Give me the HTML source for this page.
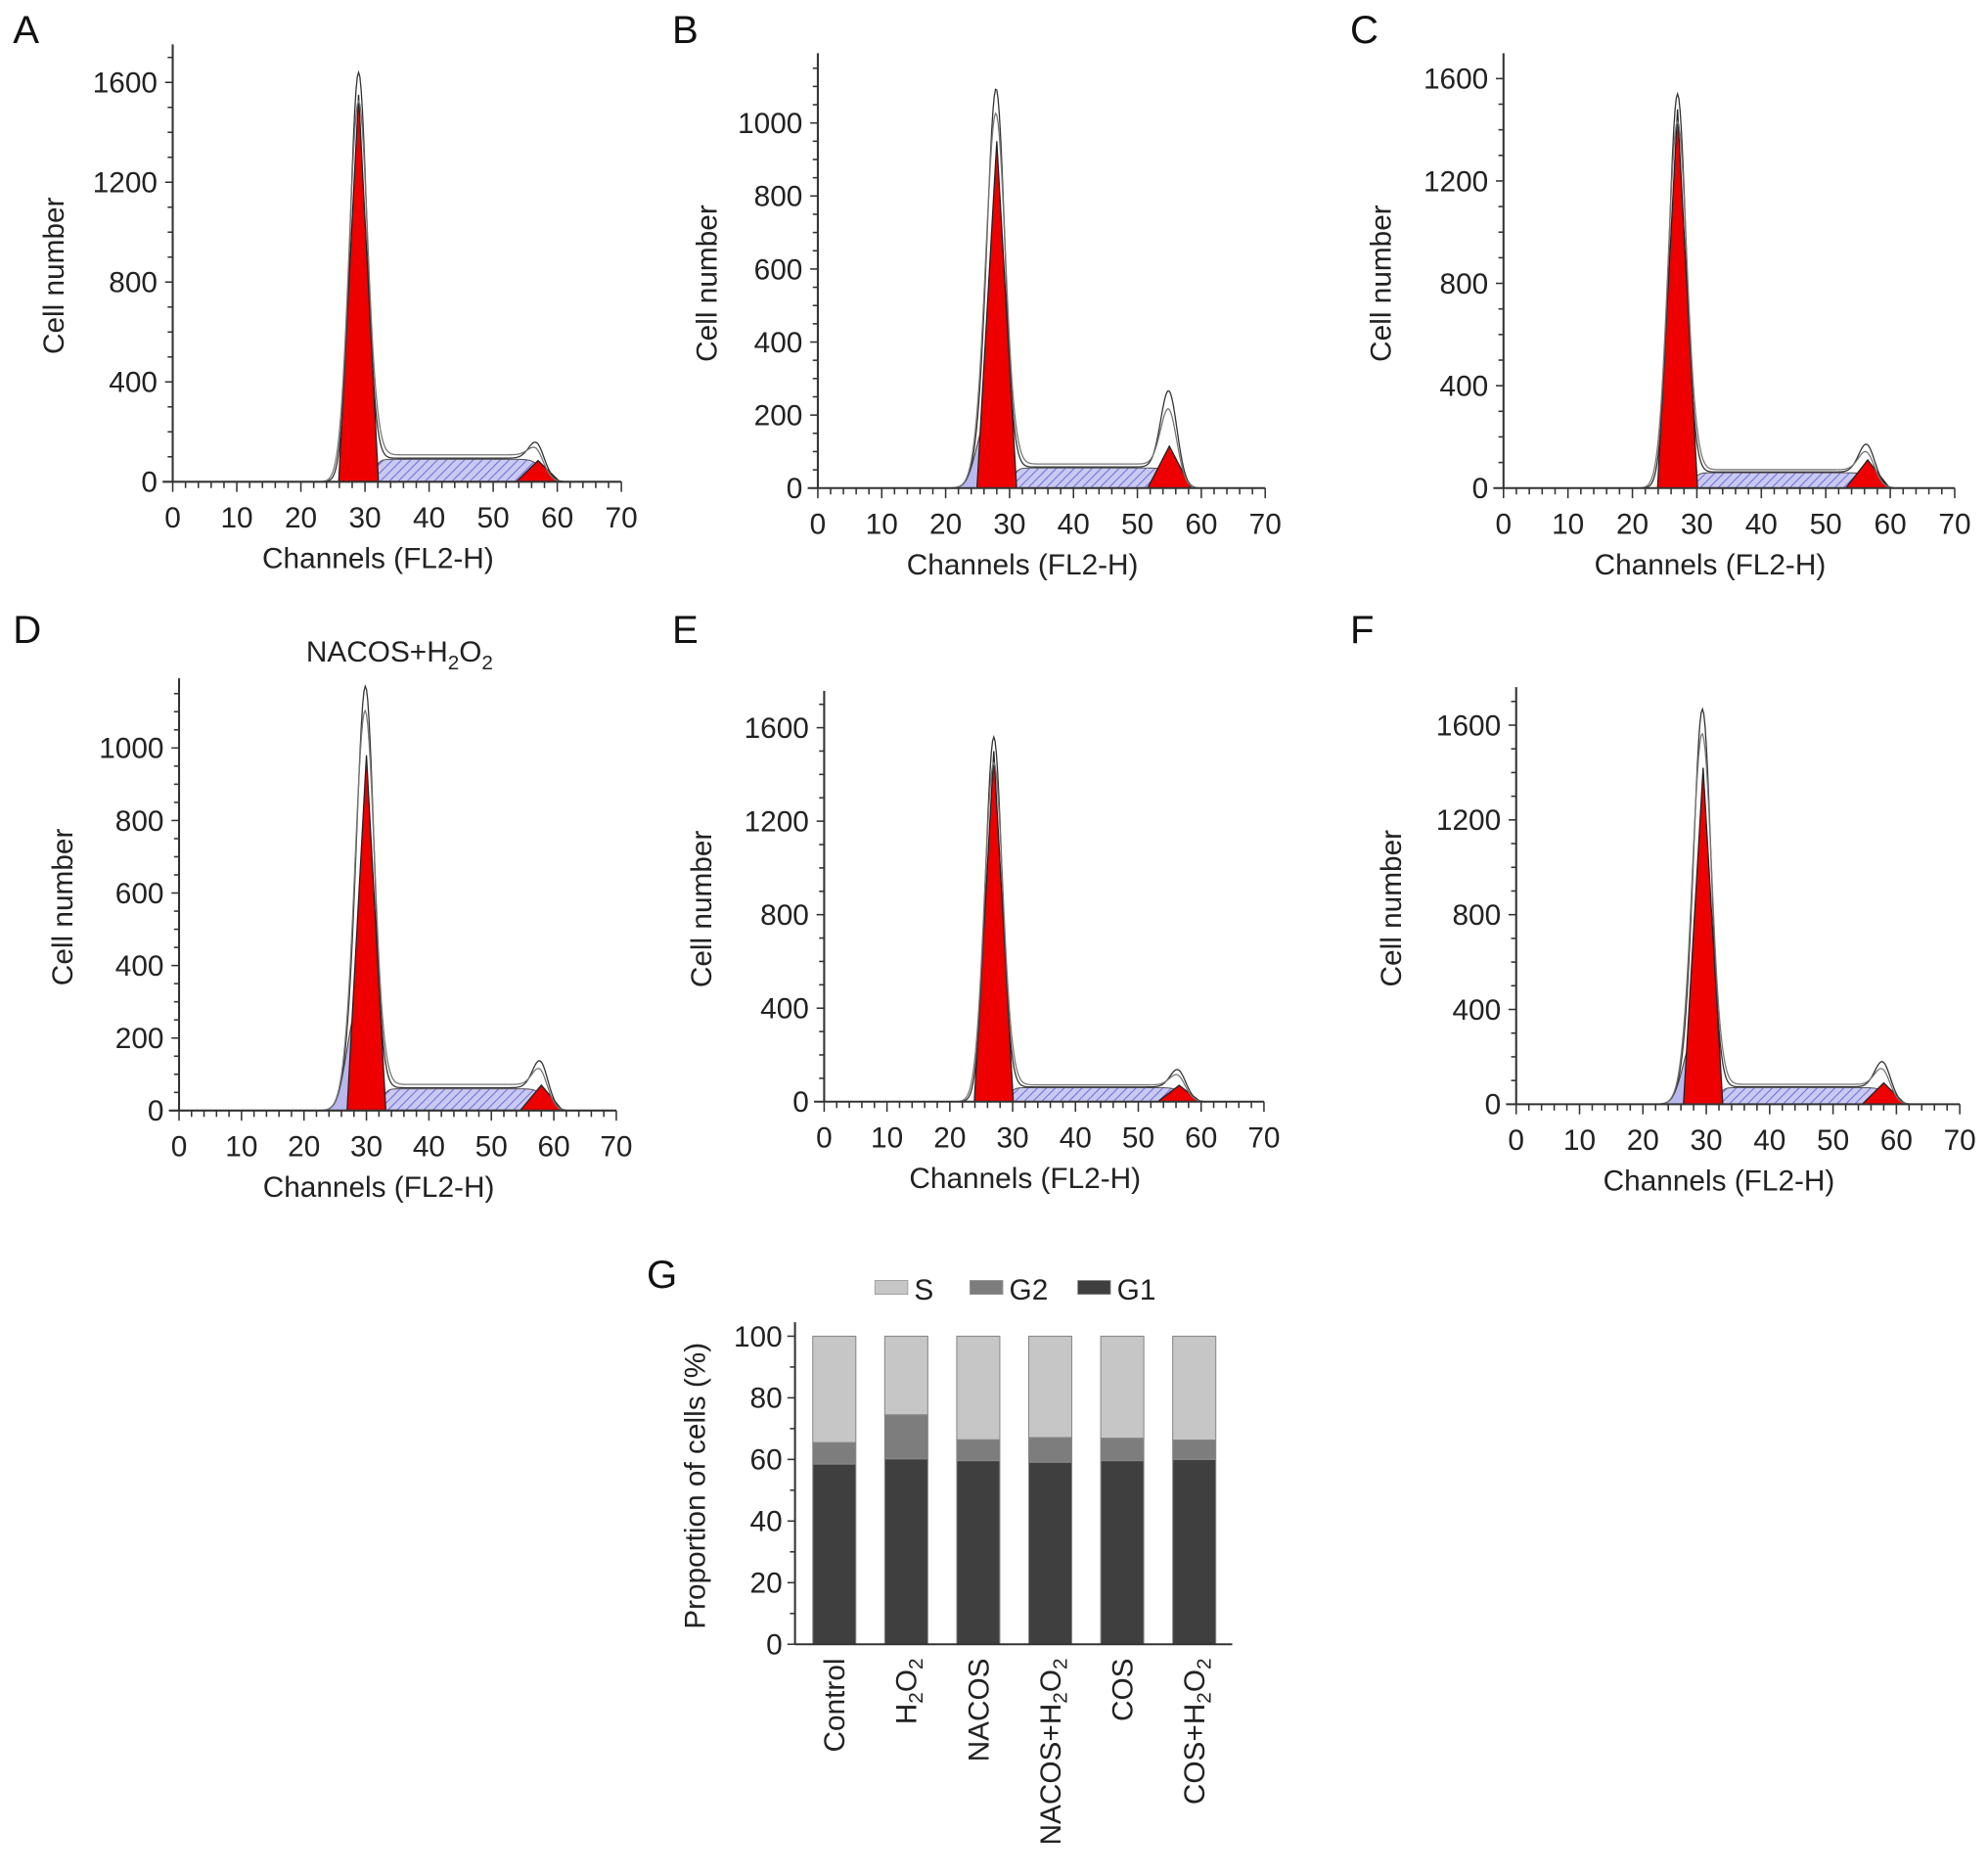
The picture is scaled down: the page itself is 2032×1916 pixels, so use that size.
<!DOCTYPE html>
<html><head><meta charset="utf-8"><style>
html,body{margin:0;padding:0;background:#fff;}
svg{display:block;font-family:"Liberation Sans",Arial,sans-serif;}
</style></head><body>
<svg id="fig" width="2032" height="1916" viewBox="0 0 1568 1479" xmlns="http://www.w3.org/2000/svg">
<defs>
<pattern id="hatch" patternUnits="userSpaceOnUse" width="5" height="5" patternTransform="rotate(45)">
<rect width="5" height="5" fill="#c9c9f2"/><line x1="0" y1="0" x2="0" y2="5" stroke="#6f6fd6" stroke-width="1.6"/>
</pattern>
</defs>
<g id="root"></g>
</svg>
<script>
// ---- Histogram data (per panel A-F) ----
const panelLetters = ["A","B","C","D","E","F"];
const yMaxTick = [1600,1000,1600,1000,1600,1600];
const yStep = [400,200,400,200,400,400];
const g1Center = [29,28,27,30,27,29.5];
const g1Height = [1550,950,1480,980,1500,1420];
const envPeak = [1640,980,1540,1000,1560,1500];
const shoulderHeight = [0,190,0,280,0,280];
const sLevel = [90,55,60,60,60,70];
const g2Center = [57,55,56.5,58,56.5,58];
const g2Height = [85,115,110,70,70,90];
const envG2 = [175,280,185,150,150,195];

// ---- Bar chart data (panel G) ----
const barCategories = ["Control","H2O2","NACOS","NACOS+H2O2","COS","COS+H2O2"];
const g1Values = [58.5,60.2,59.6,59.1,59.6,60.0];
const g2Values = [7.0,14.3,6.8,8.0,7.3,6.3];
const sValues = [34.5,25.5,33.6,32.9,33.1,33.7];
const barTicks = [0,20,40,60,80,100];

const NS="http://www.w3.org/2000/svg";
const root=document.getElementById('root');
function mk(tag,attrs,parent){const e=document.createElementNS(NS,tag);for(const k in attrs)e.setAttribute(k,attrs[k]);(parent||root).appendChild(e);return e;}
function txt(s,attrs,parent){const e=mk('text',attrs,parent);e.textContent=s;return e;}

const layout=[
 {x0:136,x70:490,y0:380,yTop:35,lx:10,ly:34,ytx:50},
 {x0:645,x70:998,y0:385,yTop:42,lx:530,ly:34,ytx:565},
 {x0:1186,x70:1542,y0:385,yTop:42,lx:1065,ly:34,ytx:1097},
 {x0:141,x70:486,y0:876,yTop:535,lx:10,ly:507,ytx:57},
 {x0:650,x70:997,y0:869,yTop:545,lx:530,ly:507,ytx:561},
 {x0:1196,x70:1546,y0:871,yTop:542,lx:1065,ly:507,ytx:1105},
];
const tickPx=[315,288,323,286,295,299];

function gauss(x,c,s){return Math.exp(-0.5*((x-c)/s)**2);}
function sig(x,c,w){return 1/(1+Math.exp(-(x-c)/w));}

for(let p=0;p<6;p++){
  const L=layout[p];
  const g=mk('g',{});
  
  
  const X=v=>L.x0+(L.x70-L.x0)*v/70;
  const Y=v=>L.y0-tickPx[p]*v/yMaxTick[p];
  const t=txt(panelLetters[p],{x:L.lx,y:L.ly,'font-size':31,fill:'#111'},g);
  
  
  const c1=g1Center[p],c2=g2Center[p],sg=1.35;
  let d='M'+X(c1+1)+','+Y(0);
  for(let x=c1+1;x<=c2+1;x+=0.25){const v=sLevel[p]*sig(x,c1+2.5,0.4)*(1-sig(x,c2+0.5,0.6));d+=' L'+X(x)+','+Y(v);}
  d+=' L'+X(c2+1)+','+Y(0)+'Z';
  const sp=mk('path',{d,fill:'url(#hatch)',stroke:'#555','stroke-width':0.8},g);
  
  
  if(shoulderHeight[p]>0){
    let ds='M'+X(c1-7)+','+Y(0);
    for(let x=c1-7;x<=c1+3;x+=0.2)ds+=' L'+X(x)+','+Y(shoulderHeight[p]*gauss(x,c1-1.5,1.6));
    ds+=' L'+X(c1+3)+','+Y(0)+'Z';
    const sh=mk('path',{d:ds,fill:'#b8b8ee',stroke:'#444','stroke-width':0.8},g);
    
    
  }
  let d1='M'+X(c1-3.3)+','+Y(0);
  for(let x=c1-3.3;x<=c1+3.3;x+=0.1)d1+=' L'+X(x)+','+Y(g1Height[p]*Math.max(0,1-Math.abs(x-c1)/3.1));
  d1+='Z';
  const r1=mk('path',{d:d1,fill:'#ee0000',stroke:'#222','stroke-width':1},g);
  
  
  let d2='M'+X(c2-4)+','+Y(0);
  for(let x=c2-4;x<=c2+4;x+=0.1)d2+=' L'+X(x)+','+Y(g2Height[p]*Math.max(0,1-Math.abs(x-c2)/3.4));
  d2+='Z';
  const r2=mk('path',{d:d2,fill:'#ee0000',stroke:'#222','stroke-width':1},g);
  
  
  for(let k=0;k<2;k++){
    let de='';
    for(let x=15;x<=66;x+=0.2){
      const pk=(k?0.93:1)*envPeak[p];
      let v=pk*gauss(x,c1,sg*(k?1.1:1))+shoulderHeight[p]*gauss(x,c1-1.5,1.6)*0.9
        +sLevel[p]*(k?1.2:1.05)*sig(x,c1+2.5,0.4)*(1-sig(x,c2+0.5,0.6))
        +(envG2[p]*(k?0.8:1)-sLevel[p])*gauss(x,c2,1.3);
      de+=(de?' L':'M')+X(x)+','+Y(v);
    }
    const el=mk('path',{d:de,fill:'none',stroke:k?'#777':'#333','stroke-width':1},g);
    
    
  }
  const ax=mk('g',{},g);
  
  
  mk('line',{x1:L.x0,y1:L.yTop,x2:L.x0,y2:L.y0,stroke:'#333','stroke-width':1.6},ax);
  const minor=yStep[p]/4;
  for(let v=0;L.y0-tickPx[p]*v/yMaxTick[p]>=L.yTop;v+=minor){
    const y=Y(v),maj=(Math.round(v/yStep[p]*1000)%1000===0);
    mk('line',{x1:L.x0-(maj?6:4),y1:y,x2:L.x0,y2:y,stroke:'#333','stroke-width':1.2},ax);
    if(maj&&v<=yMaxTick[p])txt(String(v),{x:L.x0-12,y:y+8,'font-size':23,'text-anchor':'end',fill:'#222'},ax);
  }
  const yt=txt('Cell number',{x:L.ytx,y:(L.y0+L.yTop)/2+10,'font-size':23,'text-anchor':'middle',fill:'#222',transform:'rotate(-90 '+L.ytx+' '+((L.y0+L.yTop)/2+10)+')'},g);
  
  
  const xa=mk('g',{},g);
  
  
  mk('line',{x1:L.x0-8,y1:L.y0,x2:L.x70,y2:L.y0,stroke:'#333','stroke-width':1.6},xa);
  for(let v=0;v<=70;v+=2){
    const x=X(v);mk('line',{x1:x,y1:L.y0,x2:x,y2:L.y0+(v%10===0?8:5),stroke:'#333','stroke-width':1.2},xa);
  }
  for(let v=0;v<=70;v+=10)txt(String(v),{x:X(v),y:L.y0+36,'font-size':23,'text-anchor':'middle',fill:'#222'},xa);
  const xt=txt('Channels (FL2-H)',{x:(L.x0+L.x70)/2-15,y:L.y0+68,'font-size':23,'text-anchor':'middle',fill:'#222'},g);
  
  
}
const dt=txt('',{x:315,y:522,'font-size':23,'text-anchor':'middle',fill:'#222'});
dt.innerHTML='NACOS+H<tspan font-size="16" dy="6">2</tspan><tspan dy="-6">O</tspan><tspan font-size="16" dy="6">2</tspan>';



// ---- Panel G ----
const G=mk('g',{});


const gx0=627,gy0=1297,gyPer=(1297-1054)/100;
const GY=v=>gy0-v*gyPer;
const barX=i=>658+i*56.8;
const bw=34;
txt('G',{x:510,y:1016,'font-size':31,fill:'#111'},G);
const colors={S:'#c6c6c6',G2:'#7d7d7d',G1:'#3f3f3f'};
barCategories.forEach((c,i)=>{
  const segs=[['G1',0,g1Values[i]],['G2',g1Values[i],g2Values[i]],['S',g1Values[i]+g2Values[i],sValues[i]]];
  segs.forEach(s=>{
    const r=mk('rect',{x:barX(i)-bw/2,y:GY(s[1]+s[2]),width:bw,height:s[2]*gyPer,fill:colors[s[0]],stroke:'#888','stroke-width':0.8},G);
    
    
  });
  const lb=txt('',{x:0,y:0,'font-size':23,'text-anchor':'end',fill:'#222',transform:'translate('+(barX(i)+8)+' 1308) rotate(-90)'},G);
  lb.innerHTML=c.replace(/H2O2/,'H<tspan font-size="16" dy="5">2</tspan><tspan dy="-5">O</tspan><tspan font-size="16" dy="5">2</tspan>');
  
  
});
const gax=mk('g',{},G);


mk('line',{x1:gx0,y1:1043,x2:gx0,y2:gy0,stroke:'#333','stroke-width':1.6},gax);
mk('line',{x1:gx0,y1:gy0,x2:972,y2:gy0,stroke:'#333','stroke-width':1.6},gax);
for(let v=0;v<=100;v+=10){mk('line',{x1:gx0-(v%20===0?6:4),y1:GY(v),x2:gx0,y2:GY(v),stroke:'#333','stroke-width':1.2},gax);}
barTicks.forEach(v=>txt(String(v),{x:gx0-10,y:GY(v)+8,'font-size':23,'text-anchor':'end',fill:'#222'},gax));
const gyt=txt('Proportion of cells (%)',{x:0,y:0,'font-size':23,'text-anchor':'middle',fill:'#222',transform:'translate(556 1172) rotate(-90)'},G);


const legend=mk('g',{},G);


[['S',690,colors.S],['G2',765,colors.G2],['G1',850,colors.G1]].forEach(l=>{
  const e=mk('g',{},legend);
  
  
  mk('rect',{x:l[1],y:1010,width:26,height:11,fill:l[2],stroke:'#999','stroke-width':0.6},e);
  txt(l[0],{x:l[1]+31,y:1025,'font-size':23,fill:'#222'},e);
});
</script>
</body></html>
